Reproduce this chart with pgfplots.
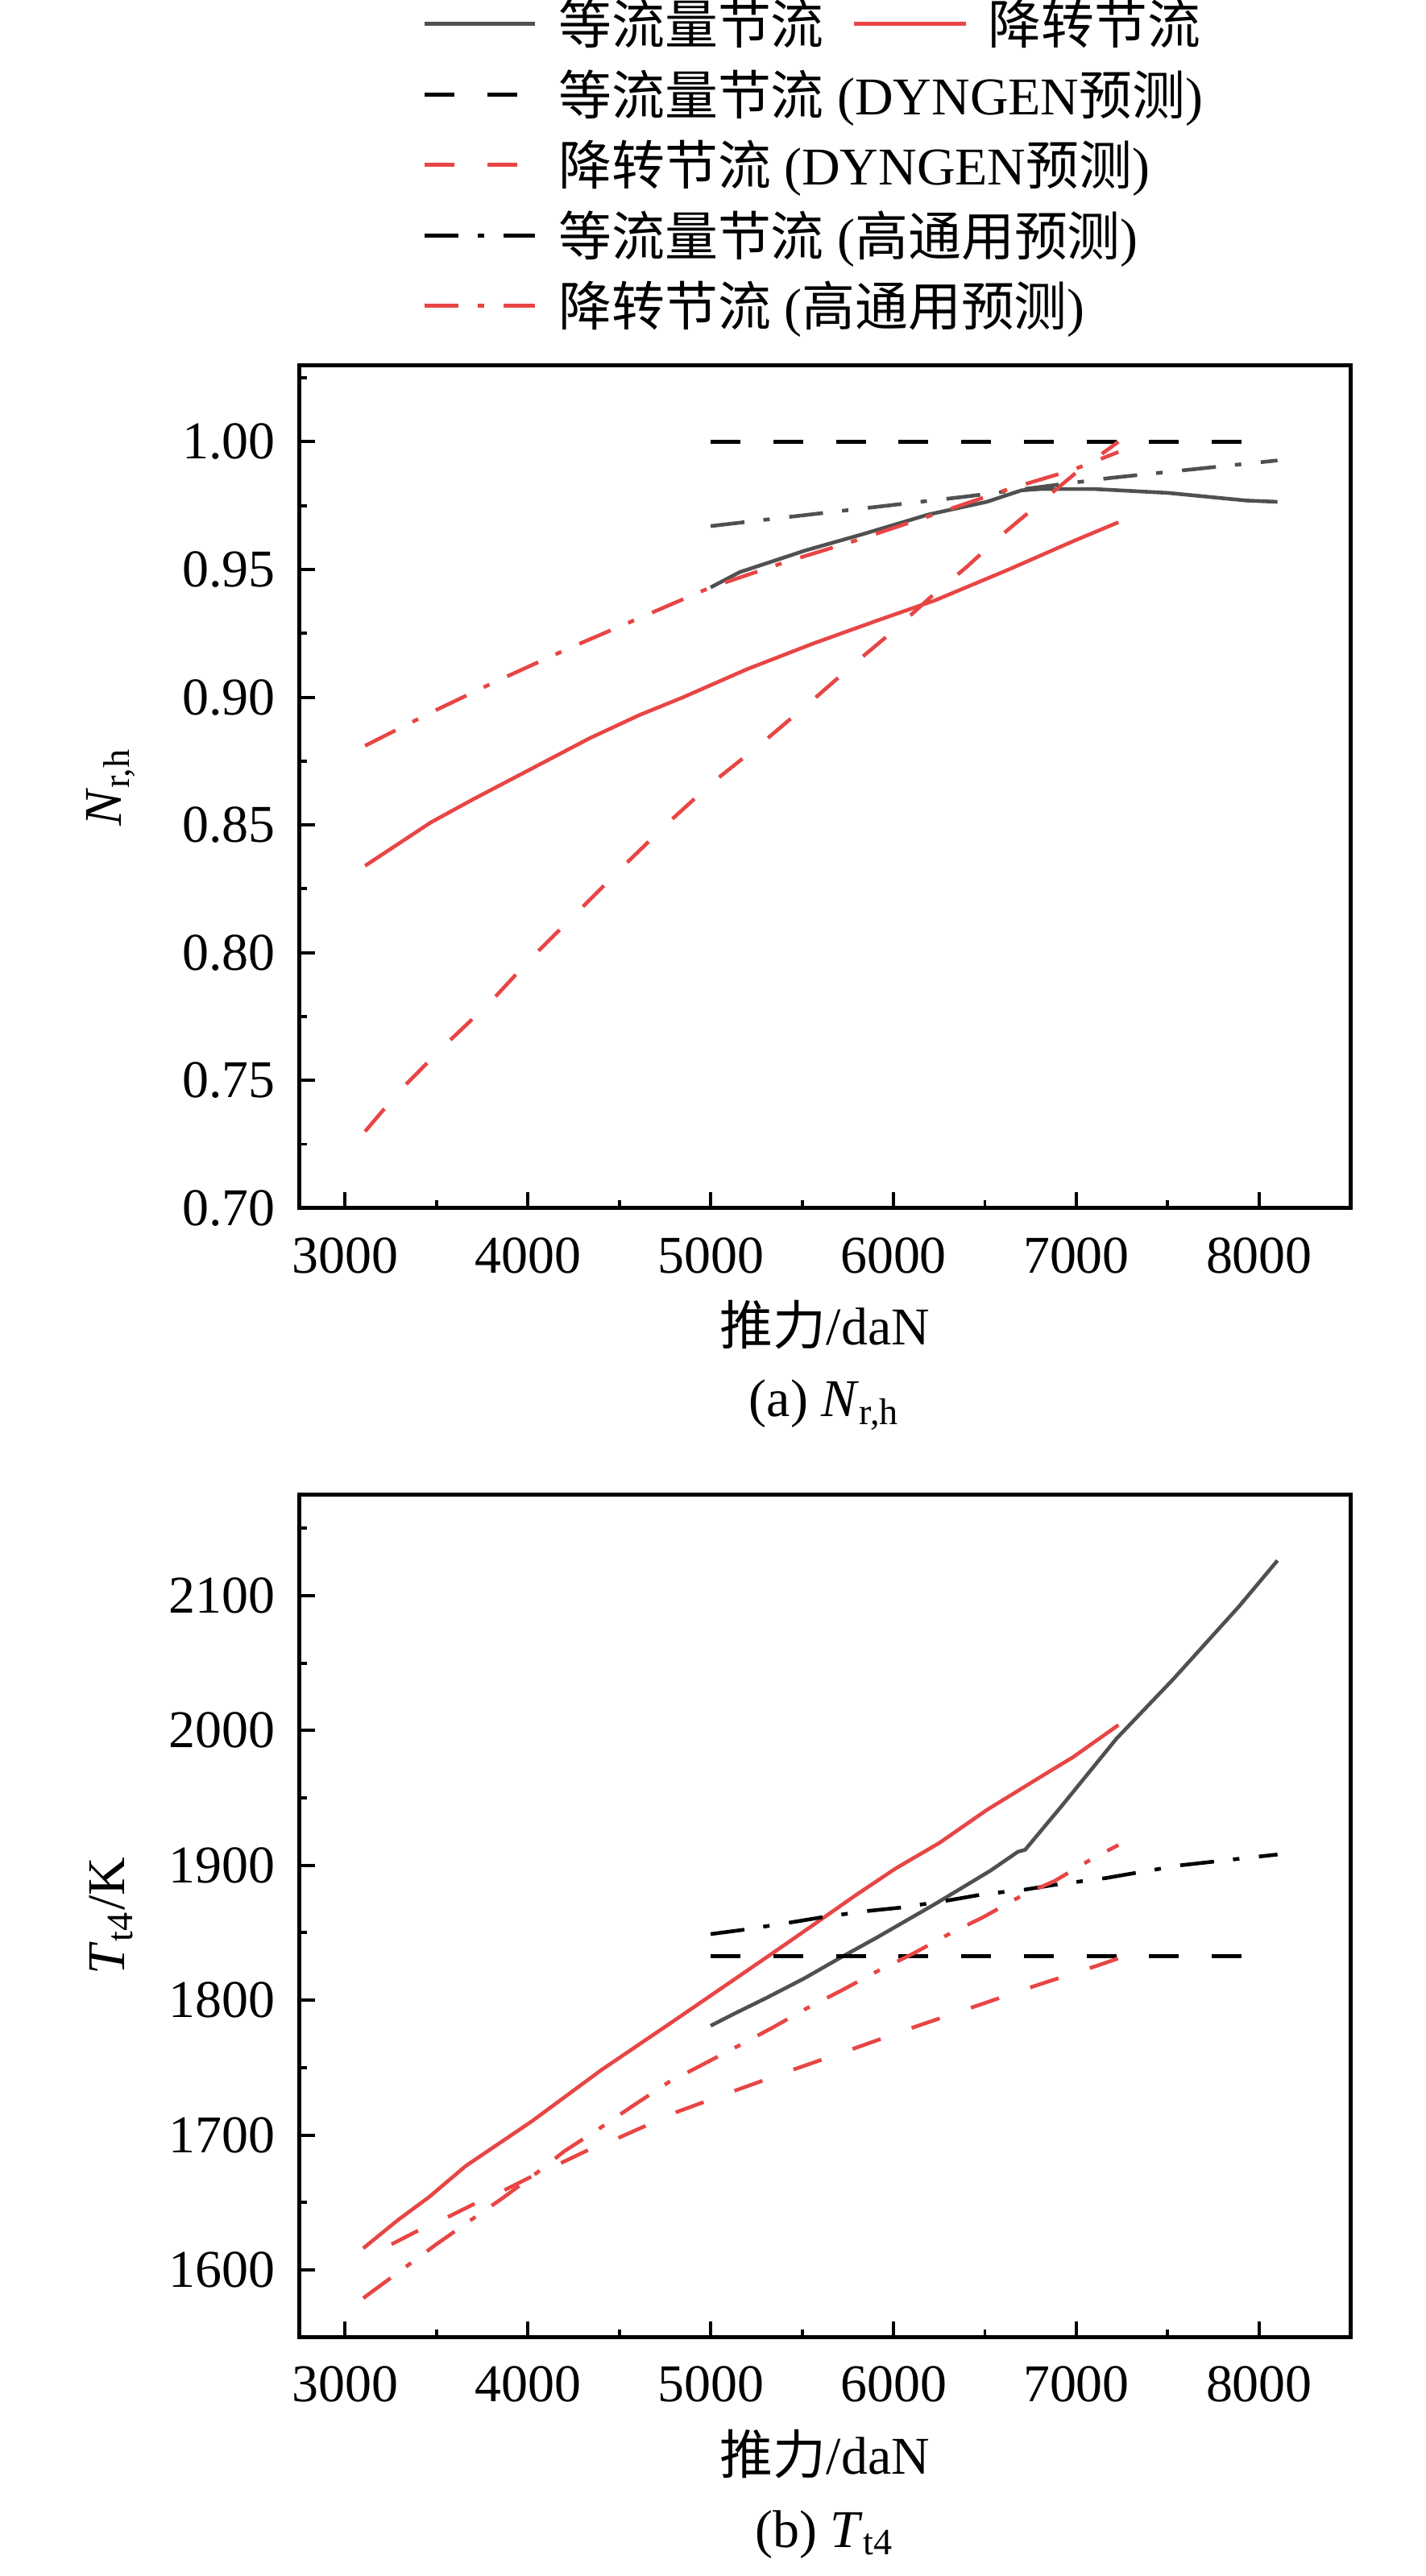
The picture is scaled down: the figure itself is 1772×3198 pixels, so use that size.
\documentclass[border=0pt]{standalone}
\usepackage{fontspec}
\setmainfont{Liberation Serif}
\newfontfamily\cjk{Noto Sans CJK SC}
\usepackage{pgfplots}
\pgfplotsset{compat=1.18}
\definecolor{cgray}{HTML}{505050}
\definecolor{cred}{HTML}{E84545}
\tikzset{
  dsh/.style={dash pattern=on 5.6pt off 6.2pt},
  dshdot/.style={dash pattern=on 6.4pt off 3.6pt on 1.2pt off 3.7pt},
}
\pgfplotsset{
  myaxis/.style={
    scale only axis, width=198.0pt, height=158.77pt,
    xmin=2750, xmax=8500,
    xtick={3000,4000,5000,6000,7000,8000},
    minor xtick={3500,4500,5500,6500,7500},
    tick pos=left, tick align=inside,
    major tick length=3pt, minor tick length=1.5pt,
    every tick/.style={black, line width=0.6pt},
    axis line style={line width=0.75pt},
    scaled ticks=false,
    /pgf/number format/assume math mode=true,
    xticklabel style={/pgf/number format/1000 sep={}, yshift=-2pt},
    yticklabel style={xshift=-1pt},
    xlabel style={at={(axis description cs:0.5,0)}, anchor=center, yshift=-22pt},
    ylabel style={at={(axis description cs:-0.179,0.5)}, anchor=center},
    clip=false,
    every axis plot/.append style={line width=0.7pt, no markers},
  }
}
\begin{document}
\begin{tikzpicture}
\begin{scope}[x=0.1515pt,y=-0.1515pt]
\path[use as bounding box] (0,0) rectangle (1772,3198);
% legend
\draw[cgray, line width=0.75pt] (528,30) -- (665,30);
\node[anchor=base west, inner sep=0pt] at (693,55) {{\cjk 等流量节流}};
\draw[cred, line width=0.75pt] (1062,30) -- (1201,30);
\node[anchor=base west, inner sep=0pt] at (1227,55) {{\cjk 降转节流}};
\draw[black, line width=0.75pt, dsh] (528,117.3) -- (650,117.3);
\node[anchor=base west, inner sep=0pt] at (693,142.3) {{\cjk 等流量节流} (DYNGEN{\cjk 预测})};
\draw[cred, line width=0.75pt, dsh] (528,205) -- (650,205);
\node[anchor=base west, inner sep=0pt] at (693,230) {{\cjk 降转节流} (DYNGEN{\cjk 预测})};
\draw[black, line width=0.75pt, dshdot] (528,292.7) -- (665,292.7);
\node[anchor=base west, inner sep=0pt] at (693,317.7) {{\cjk 等流量节流} ({\cjk 高通用预测})};
\draw[cred, line width=0.75pt, dshdot] (528,380) -- (665,380);
\node[anchor=base west, inner sep=0pt] at (693,405) {{\cjk 降转节流} ({\cjk 高通用预测})};
\end{scope}

% (a) N_r,h
\begin{axis}[myaxis, at={(56.358pt,-227.553pt)}, anchor=south west,
  ymin=0.70, ymax=1.03,
  ytick={0.70,0.75,0.80,0.85,0.90,0.95,1.00},
  minor ytick={0.725,0.775,0.825,0.875,0.925,0.975,1.025},
  yticklabel style={/pgf/number format/fixed, /pgf/number format/fixed zerofill, /pgf/number format/precision=2},
  xlabel={{\cjk 推力}/daN},
  ylabel={\textit{N}\textsubscript{r,h}}]
% 等流量节流
\addplot[cgray] coordinates {(5000,0.943) (5160,0.949) (5520,0.9575) (5840,0.964) (6190,0.9715) (6510,0.9765) (6700,0.981) (6800,0.9815) (7100,0.9815) (7500,0.980) (7930,0.977) (8100,0.9765)};
% 降转节流
\addplot[cred] coordinates {(3110,0.834) (3470,0.851) (3700,0.860) (4020,0.872) (4340,0.884) (4610,0.893) (4850,0.900) (5200,0.911) (5560,0.921) (5910,0.930) (6230,0.938) (6630,0.950) (6980,0.961) (7230,0.9685)};
% 等流量节流 DYNGEN
\addplot[black, dsh] coordinates {(5000,1.000) (7910,1.000)};
% 降转节流 DYNGEN
\addplot[cred, dsh] coordinates {(3110,0.730) (3300,0.746) (3550,0.764) (3800,0.781) (4020,0.798) (4260,0.815) (4510,0.833) (4770,0.851) (5000,0.866) (5280,0.882) (5560,0.899) (5800,0.914) (6000,0.926) (6200,0.939) (6400,0.951) (6600,0.964) (6800,0.976) (7000,0.988) (7230,1.000)};
% 等流量节流 高通用
\addplot[cgray, dshdot] coordinates {(5000,0.967) (5600,0.972) (6390,0.9785) (7180,0.9858) (8100,0.9927)};
% 降转节流 高通用
\addplot[cred, dshdot] coordinates {(3110,0.881) (3470,0.894) (3820,0.906) (4220,0.919) (4610,0.931) (5000,0.943) (5400,0.9527) (5800,0.9615) (6190,0.9708) (6630,0.9815) (6980,0.989) (7230,0.996)};
\node[anchor=center] at (rel axis cs:0.5,0) [yshift=-37.1pt] {(a) \textit{N}\textsubscript{r,h}};
\end{axis}

% (b) T_t4
\begin{axis}[myaxis, at={(56.358pt,-440.259pt)}, anchor=south west,
  ymin=1550, ymax=2175,
  ytick={1600,1700,1800,1900,2000,2100},
  minor ytick={1650,1750,1850,1950,2050,2150},
  yticklabel style={/pgf/number format/1000 sep={}},
  xlabel={{\cjk 推力}/daN},
  ylabel={\textit{T}\textsubscript{t4}/K}]
% 等流量节流
\addplot[cgray] coordinates {(5000,1781) (5130,1790) (5310,1802) (5510,1816) (5710,1831.5) (5910,1846.5) (6230,1871.5) (6530,1896) (6680,1910) (6720,1911.5) (6920,1944) (7220,1994) (7530,2038) (7890,2092) (8100,2126)};
% 降转节流
\addplot[cred] coordinates {(3100,1616) (3290,1637) (3460,1654) (3660,1677) (4020,1710) (4400,1748) (4770,1782) (5050,1808) (5330,1834) (5590,1858.5) (5790,1877.5) (6010,1897.5) (6250,1916.5) (6510,1941) (6870,1971) (6980,1980) (7230,2004)};
% 等流量节流 DYNGEN
\addplot[black, dsh] coordinates {(5000,1832.6) (7910,1832.6)};
% 降转节流 DYNGEN
\addplot[cred, dsh] coordinates {(3255,1619) (3394,1628.7) (3560,1639) (3702,1648.6) (3870,1659) (4010,1668.5) (4178,1679) (4317,1688) (4493,1697.7) (4813,1717) (5143,1733.4) (5469,1749.3) (5793,1764.6) (6123,1780.5) (6453,1795.7) (6783,1811) (7113,1825.5) (7230,1831)};
% 等流量节流 高通用
\addplot[black, dshdot] coordinates {(5000,1849) (5170,1852) (5410,1857) (5610,1861.5) (5850,1866) (6030,1868.5) (6280,1873.5) (6490,1878.5) (6720,1882) (6880,1885.5) (7160,1890.5) (7330,1894.5) (7570,1900) (8100,1908)};
% 降转节流 高通用
\addplot[cred, dshdot] coordinates {(3100,1579) (3350,1604) (3500,1619) (3700,1638) (3860,1653) (4050,1672) (4200,1688) (4400,1705.6) (4573,1721.5) (4773,1739.4) (4943,1751.3) (5153,1766.2) (5333,1779.2) (5533,1794.5) (5713,1807) (5923,1822.3) (6103,1834.2) (6313,1849.7) (6493,1861.7) (6703,1877.6) (6883,1888.5) (7093,1905.4) (7230,1915)};
\node[anchor=center] at (rel axis cs:0.5,0) [yshift=-37.1pt] {(b) \textit{T}\textsubscript{t4}};
\end{axis}
\end{tikzpicture}
\end{document}
